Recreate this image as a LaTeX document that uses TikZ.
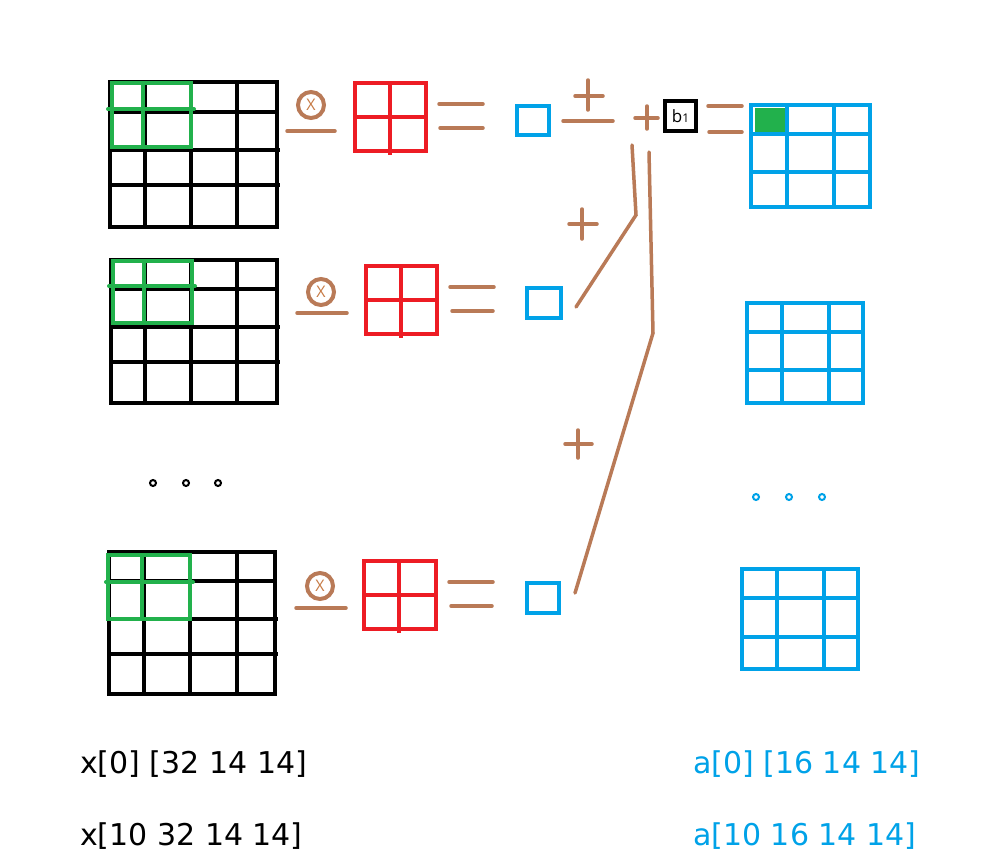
\documentclass[tikz,border=0pt]{standalone}
\usepackage{fontspec}
\setmainfont{Open Sans}
\newfontfamily\lblfont{DejaVu Sans}
\definecolor{pbrown}{HTML}{B97A57}
\definecolor{pred}{HTML}{ED1C24}
\definecolor{pblue}{HTML}{00A2E8}
\definecolor{pgreen}{HTML}{22B14C}
\tikzset{
  bk/.style={line width=4pt, black},
  gr/.style={line width=4pt, pgreen, line cap=round},
  rd/.style={line width=4pt, pred},
  bl/.style={line width=4.5pt, pblue},
  br/.style={line width=3.5pt, pbrown, line cap=round},
  otimes/.style={circle, draw=pbrown, line width=4pt, minimum size=26pt, inner sep=0pt,
     text=pbrown!80!orange, font=\fontsize{16}{16}\selectfont},
  lbl/.style={anchor=base west, inner sep=0pt, font=\lblfont\fontsize{30}{36}\selectfont},
  ring/.style={circle, draw, line width=2pt, minimum size=6pt, inner sep=0pt},
}
\begin{document}
\begin{tikzpicture}[x=1pt,y=-1pt]
\useasboundingbox[fill=white] (0,0) rectangle (994,862);

% ---------- black input grids ----------
\draw[bk] (110,82) rectangle (277,227);
\draw[bk] (145,82)--(145,227) (191,82)--(191,227) (237,82)--(237,227)
          (110,112)--(277,112) (110,150)--(280,150) (110,185)--(280,185);
\draw[bk] (111,260) rectangle (277,403);
\draw[bk] (145,260)--(145,403) (191,260)--(191,403) (237,260)--(237,403)
          (111,289)--(277,289) (111,327)--(280,327) (111,362)--(280,362);
\draw[bk] (109,552) rectangle (275,694);
\draw[bk] (144,552)--(144,694) (190,552)--(190,694) (237,552)--(237,694)
          (109,581)--(275,581) (109,619)--(278,619) (109,654)--(278,654);

% ---------- green windows ----------
\draw[gr] (112,83) rectangle (191,147);
\draw[gr] (143,83)--(143,147) (108,109)--(194,109);
\draw[gr] (113,261) rectangle (192,323);
\draw[gr] (144,261)--(144,323) (109,286)--(195,286);
\draw[gr] (108,555) rectangle (190,619);
\draw[gr] (142,555)--(142,619) (106,582)--(193,582);

% ---------- dots ----------
\node[ring] (d1) at (153,483) {};
\node[ring] (d2) at (186,483) {};
\node[ring] (d3) at (218,483) {};
\node[ring, draw=pblue] (e1) at (756,497) {};
\node[ring, draw=pblue] (e2) at (789,497) {};
\node[ring, draw=pblue] (e3) at (822,497) {};

% ---------- convolution operators ----------
\node[otimes] (m1) at (311,105) {X};
\draw[br] (287,131)--(335,131);
\node[otimes] (m2) at (321,292) {X};
\draw[br] (297,313)--(347,313);
\node[otimes] (m3) at (320,586) {X};
\draw[br] (296,608)--(346,608);

% ---------- red kernels ----------
\draw[rd] (355,83) rectangle (426,151);
\draw[rd] (390,83)--(390,155) (355,117)--(426,117);
\draw[rd] (366,266) rectangle (437,334);
\draw[rd] (401,266)--(401,338) (366,300)--(437,300);
\draw[rd] (364,561) rectangle (436,629);
\draw[rd] (399,561)--(399,633) (364,595)--(436,595);

% ---------- equal signs ----------
\draw[br] (439,104)--(483,104) (440,128)--(483,128);
\draw[br] (450,287)--(494,287) (452,311)--(493,311);
\draw[br] (449,582)--(493,582) (451,606)--(492,606);

% ---------- blue result squares ----------
\draw[bl] (517,106) rectangle (549,135);
\draw[bl] (527,288) rectangle (561,318);
\draw[bl] (527,583) rectangle (559,613);

% ---------- sums ----------
\draw[br] (575,96)--(603,96) (588,80)--(588,110);
\draw[br] (563,121)--(613,121);
\draw[br] (635,118)--(658,118) (647,106)--(647,129);
\draw[br] (569,224)--(597,224) (582,209)--(582,239);
\draw[br] (565,444)--(592,444) (578,430)--(578,458);

\coordinate (s2) at (576,307);
\coordinate (s3) at (575,593);
\coordinate (k1) at (636,215);
\coordinate (k2) at (653,333);
\draw[br] (632,145) -- (k1) -- (s2);
\draw[br] (649,152) -- (k2) -- (s3);

% ---------- bias ----------
\node[draw, line width=4pt, minimum width=31pt, minimum height=30pt, inner sep=0pt]
  (b1) at (680.5,116) {\fontsize{17}{17}\selectfont b\fontsize{12}{12}\selectfont 1};
\draw[br] (708,106)--(742,106) (709,132)--(742,132);

% ---------- blue output maps ----------
\fill[pgreen] (755,108) rectangle (785,132);
\draw[bl] (751,105) rectangle (870,207);
\draw[bl] (787,105)--(787,207) (834,105)--(834,207) (751,134)--(870,134) (751,172)--(870,172);
\draw[bl] (747,303) rectangle (863,403);
\draw[bl] (782,303)--(782,403) (829,303)--(829,403) (747,332)--(863,332) (747,370)--(863,370);
\draw[bl] (742,569) rectangle (858,669);
\draw[bl] (777,569)--(777,669) (824,569)--(824,669) (742,598)--(858,598) (742,637)--(858,637);

% ---------- labels ----------
\node[lbl] (lx0) at (80,773) {x[0] [32 14 14]};
\node[lbl] (lx1) at (80,845) {x[10 32 14 14]};
\node[lbl, text=pblue] (la0) at (693,773) {a[0] [16 14 14]};
\node[lbl, text=pblue] (la1) at (693,845) {a[10 16 14 14]};
\end{tikzpicture}
\end{document}
